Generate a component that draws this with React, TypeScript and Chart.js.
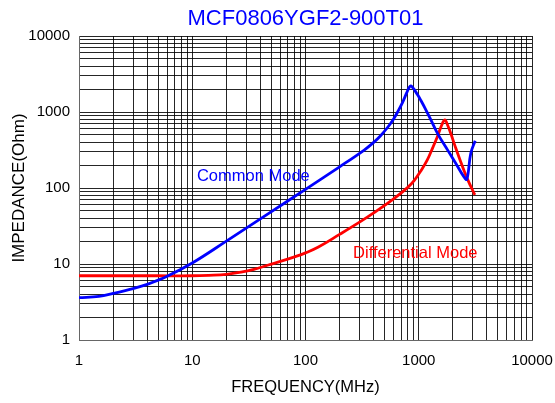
import React, { useEffect, useRef } from 'react';
import { Chart, registerables } from 'chart.js';

Chart.register(...registerables);

// Common mode impedance (blue)
const cmFreq = [1, 1.5, 2, 3, 4, 6, 10, 20, 47, 100, 200, 330, 400, 460, 530, 600, 660, 720, 780, 820, 850, 880, 920, 980, 1040, 1150, 1280, 1480, 1800, 2100, 2500, 2660, 2880, 3150];
const cmImp = [3.6, 3.75, 4.1, 4.75, 5.4, 6.9, 10.3, 20, 46, 96, 190, 316, 398, 488, 625, 811, 1040, 1340, 1770, 2080, 2200, 2120, 1940, 1670, 1435, 1086, 785, 508, 315, 217, 141, 130, 286, 419];

// Differential mode impedance (red)
const dmFreq = [1, 5, 10, 14, 20, 27, 35, 47, 60, 80, 100, 130, 200, 300, 400, 600, 800, 910, 1050, 1190, 1330, 1460, 1600, 1700, 1800, 1920, 2100, 2350, 2700, 3130];
const dmImp = [7.0, 7.0, 7.0, 7.1, 7.3, 7.8, 8.5, 9.7, 10.8, 12.4, 14, 16.7, 24.5, 35.5, 47, 72, 102, 125, 170, 234, 340, 473, 680, 785, 670, 520, 350, 220, 130, 81];

const decadeTicks = [1, 10, 100, 1000, 10000];
const minorSteps = [1, 2, 3, 4, 5, 6, 7, 8, 9];

const chartTitle = 'MCF0806YGF2-900T01';
const xTitle = 'FREQUENCY(MHz)';
const yTitle = 'IMPEDANCE(Ohm)';
const cmLabel = 'Common Mode';
const dmLabel = 'Differential Mode';

const BLUE = '#0000ff';
const RED = '#ff0000';
const FONT = 'Arial, "Liberation Sans", sans-serif';

const gridValues = decadeTicks
  .slice(0, -1)
  .flatMap((d) => minorSteps.map((m) => m * d))
  .concat([decadeTicks[decadeTicks.length - 1]]);

const toPoints = (xs: number[], ys: number[]) => xs.map((x, i) => ({ x, y: ys[i] }));

export default function App() {
  const ref = useRef<HTMLCanvasElement | null>(null);

  useEffect(() => {
    if (!ref.current) return;

    const textPlugin = {
      id: 'textPlugin',
      afterDraw(chart: any) {
        const { ctx, chartArea, scales } = chart;
        ctx.save();
        ctx.fillStyle = BLUE;
        ctx.font = `22px ${FONT}`;
        ctx.textAlign = 'center';
        ctx.textBaseline = 'alphabetic';
        ctx.fillText(chartTitle, (chartArea.left + chartArea.right) / 2, 25);

        ctx.font = `16.5px ${FONT}`;
        ctx.textAlign = 'left';
        ctx.fillStyle = BLUE;
        ctx.fillText(cmLabel, scales.x.getPixelForValue(11), scales.y.getPixelForValue(124));
        ctx.fillStyle = RED;
        ctx.fillText(dmLabel, scales.x.getPixelForValue(263), scales.y.getPixelForValue(12));
        ctx.restore();
      },
    };

    const setTicks = (scale: any) => {
      scale.ticks = gridValues.map((v) => ({ value: v, major: decadeTicks.includes(v) }));
    };
    const tickCb = (value: any) => (decadeTicks.includes(Number(value)) ? String(value) : '');

    const lineStyle = {
      borderWidth: 2.8,
      pointRadius: 0,
      tension: 0.4,
      fill: false,
    };

    const chart = new Chart(ref.current, {
      type: 'line',
      data: {
        datasets: [
          { label: cmLabel, data: toPoints(cmFreq, cmImp), borderColor: BLUE, ...lineStyle },
          { label: dmLabel, data: toPoints(dmFreq, dmImp), borderColor: RED, ...lineStyle },
        ],
      },
      options: {
        responsive: false,
        animation: false,
        layout: { padding: { top: 36, right: 23, left: 0, bottom: 0 } },
        plugins: {
          legend: { display: false },
          title: { display: false },
          tooltip: { enabled: false },
        },
        scales: {
          x: {
            type: 'logarithmic',
            position: 'bottom',
            min: 1,
            max: 10000,
            afterBuildTicks: setTicks,
            afterFit: (s: any) => {
              s.height = 63;
              s.paddingLeft = 0;
              s.paddingRight = 0;
            },
            ticks: {
              callback: tickCb,
              autoSkip: false,
              maxRotation: 0,
              minRotation: 0,
              color: '#000',
              padding: 12,
              font: { family: FONT, size: 15 },
            },
            grid: { color: 'rgba(0,0,0,0.85)', lineWidth: 1, drawTicks: false },
            border: { display: true, color: '#666', width: 1 },
            title: {
              display: true,
              text: xTitle,
              color: '#000',
              font: { family: FONT, size: 16.5 },
              padding: { top: 0, bottom: 6 },
            },
          },
          y: {
            type: 'logarithmic',
            position: 'left',
            min: 1,
            max: 10000,
            afterBuildTicks: setTicks,
            afterFit: (s: any) => {
              s.width = 79;
            },
            ticks: {
              callback: tickCb,
              autoSkip: false,
              color: '#000',
              padding: 9,
              font: { family: FONT, size: 15 },
            },
            grid: { color: 'rgba(0,0,0,0.85)', lineWidth: 1, drawTicks: false },
            border: { display: true, color: '#666', width: 1 },
            title: {
              display: true,
              text: yTitle,
              color: '#000',
              font: { family: FONT, size: 17 },
              padding: { top: 9, bottom: 0 },
            },
          },
        },
      } as any,
      plugins: [textPlugin],
    });

    return () => chart.destroy();
  }, []);

  return (
    <div style={{ position: 'absolute', left: 0, top: 0, width: 555, height: 403, background: '#fff' }}>
      <canvas ref={ref} width={555} height={403} style={{ display: 'block' }} />
    </div>
  );
}
